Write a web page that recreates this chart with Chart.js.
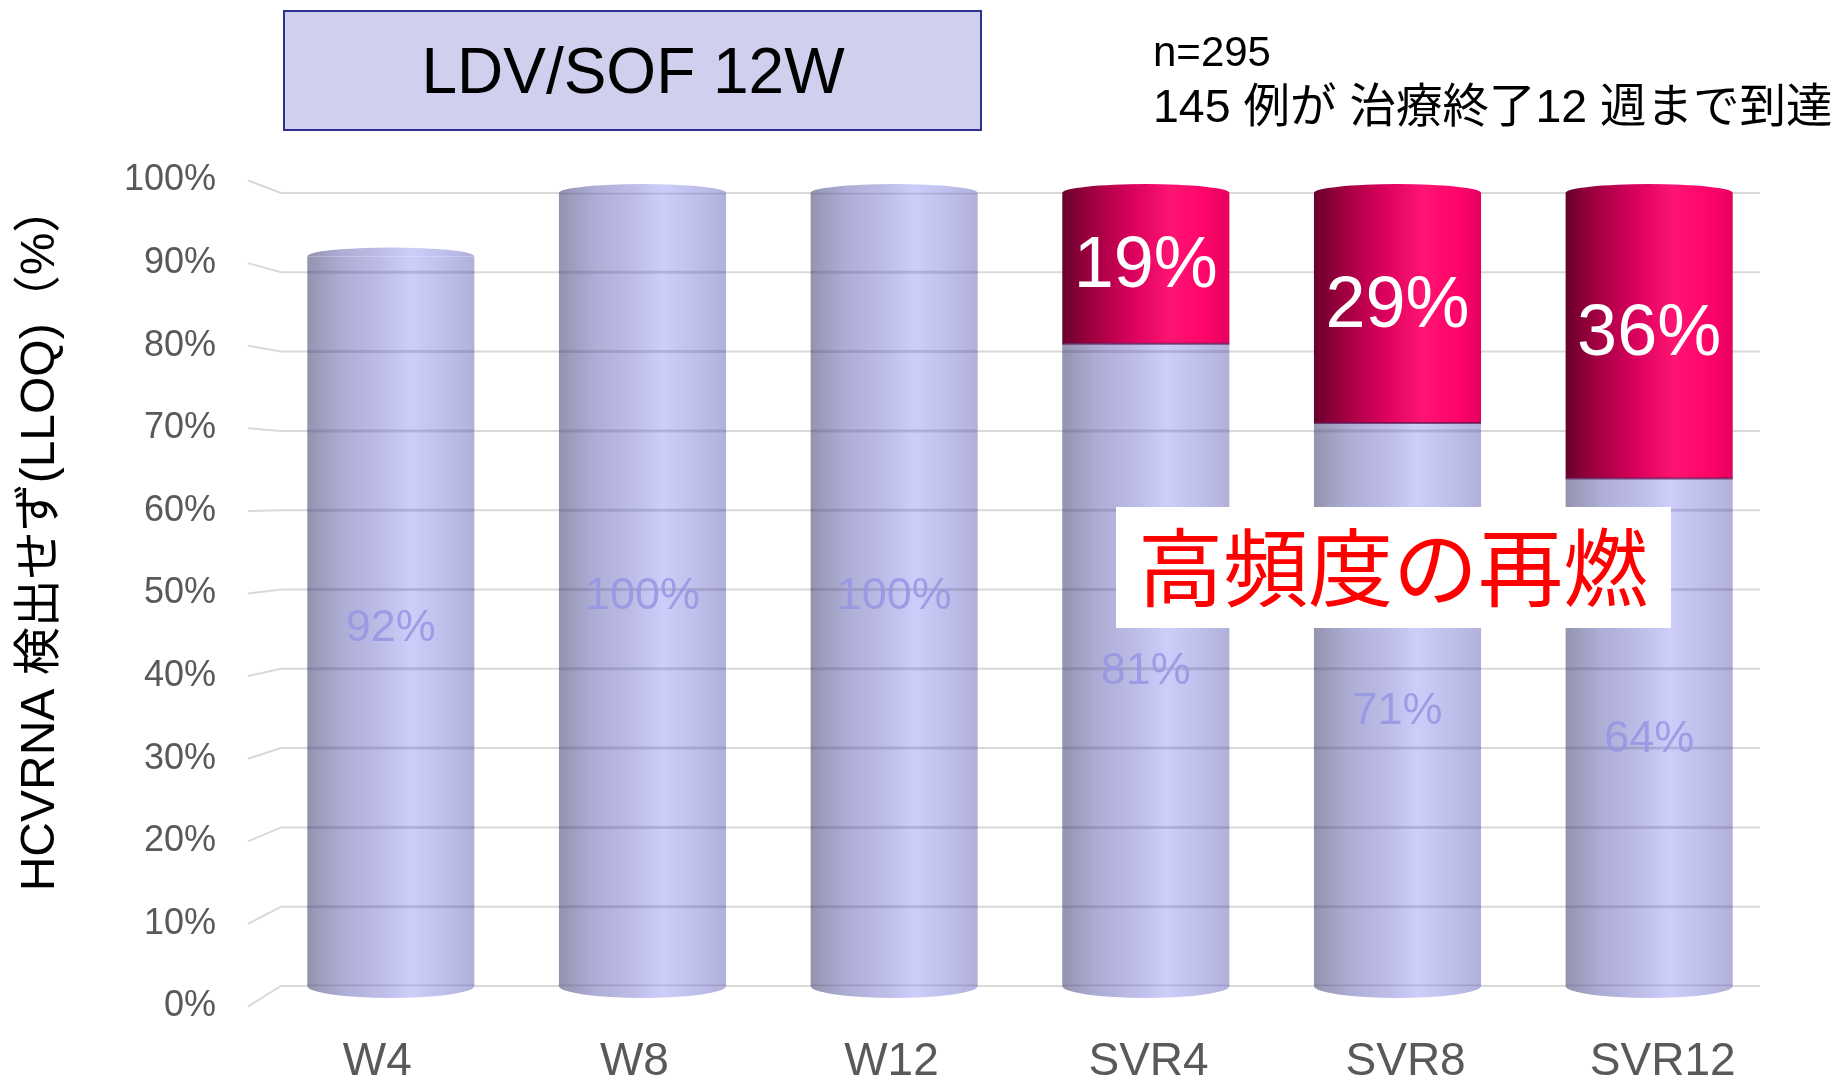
<!DOCTYPE html>
<html>
<head>
<meta charset="utf-8">
<script src="https://cdn.jsdelivr.net/npm/chart.js@4"></script>
<style>
  html, body { margin: 0; padding: 0; background: #fff; }
  #wrap { width: 1848px; height: 1078px; position: relative; }
</style>
</head>
<body>
<div id="wrap"><canvas id="chart"></canvas></div>
<script>
const labels = ['W4', 'W8', 'W12', 'SVR4', 'SVR8', 'SVR12'];
const undetected = [92, 100, 100, 81, 71, 64];   // HCV RNA < LLOQ (%)
const relapse = [0, 0, 0, 19, 29, 36];            // relapse (%)
const yTicks = [0, 10, 20, 30, 40, 50, 60, 70, 80, 90, 100];
const yTickLabels = yTicks.map(v => v + '%');

const LATIN = "'Liberation Sans', Arial, 'Noto Sans CJK JP', sans-serif";
const JP = "'Noto Sans CJK JP', 'Liberation Sans', sans-serif";
const BAR_PCT = 0.664;

const blueStops = [
  [0, 'rgba(136,136,166,0.9)'], [0.2, 'rgba(163,163,208,0.9)'], [0.45, 'rgba(182,182,230,0.9)'],
  [0.62, 'rgba(200,200,250,0.9)'], [0.82, 'rgba(184,184,234,0.9)'], [1, 'rgba(168,168,214,0.9)']
];
const redStops = [
  [0, '#69002d'], [0.15, '#98003d'], [0.4, '#d6005a'],
  [0.65, '#ff1473'], [0.85, '#ff0569'], [1, '#e6005f']
];

function barGradient(context, stops) {
  const chart = context.chart;
  const xs = chart.scales.x;
  if (context.type !== 'data' || !chart.chartArea || !xs) return stops[2][1];
  const cx = xs.getPixelForValue(context.dataIndex);
  const w = xs.width / labels.length * BAR_PCT;
  const g = chart.ctx.createLinearGradient(cx - w / 2, 0, cx + w / 2, 0);
  stops.forEach(s => g.addColorStop(s[0], s[1]));
  return g;
}

// axes, perspective tick labels, cylinder caps, data labels and annotations
const deco = {
  id: 'deco',
  beforeDatasetsDraw(chart) {
    const {ctx, chartArea: a, scales: {x, y}} = chart;
    const midY = (a.top + a.bottom) / 2;
    const midX = (a.left + a.right) / 2;
    ctx.save();
    ctx.strokeStyle = '#d9d9d9';
    ctx.lineWidth = 2;
    ctx.font = '36px ' + LATIN;
    ctx.fillStyle = '#595959';
    ctx.textAlign = 'right';
    ctx.textBaseline = 'middle';
    yTicks.forEach((v, i) => {
      const gy = y.getPixelForValue(v);
      const ly = midY + (gy - midY) * 1.0416 + 4;
      ctx.beginPath();
      ctx.moveTo(a.left - 17, ly);
      ctx.lineTo(a.left + 16, gy);
      ctx.lineTo(a.right - 15, gy);
      ctx.stroke();
      ctx.fillText(yTickLabels[i], a.left - 49, ly);
    });
    ctx.font = '46px ' + LATIN;
    ctx.textAlign = 'center';
    labels.forEach((lab, i) => {
      const bx = x.getPixelForValue(i);
      ctx.fillText(lab, midX + (bx - midX) * 1.0215, 1062);
    });
    ctx.restore();
  },
  afterDatasetsDraw(chart) {
    const {ctx, scales: {y}} = chart;
    const m0 = chart.getDatasetMeta(0);
    const m1 = chart.getDatasetMeta(1);
    ctx.save();
    m0.data.forEach((bar, i) => {
      const p = bar.getProps(['x', 'y', 'base', 'width'], true);
      const left = p.x - p.width / 2;
      // grid lines seen through the translucent cylinder
      ctx.save();
      ctx.beginPath();
      ctx.rect(left, p.y, p.width, p.base - p.y);
      ctx.clip();
      ctx.strokeStyle = 'rgba(70,70,110,0.18)';
      ctx.lineWidth = 3;
      yTicks.forEach(v => {
        const gy = y.getPixelForValue(v);
        ctx.beginPath();
        ctx.moveTo(left, gy);
        ctx.lineTo(left + p.width, gy);
        ctx.stroke();
      });
      ctx.restore();
      // bottom cap
      ctx.fillStyle = bar.options.backgroundColor;
      ctx.beginPath();
      ctx.ellipse(p.x, p.base, p.width / 2, 12, 0, 0, Math.PI);
      ctx.fill();
      // top cap
      const topBar = relapse[i] > 0 ? m1.data[i] : bar;
      const tp = topBar.getProps(['x', 'y', 'width'], true);
      ctx.fillStyle = topBar.options.backgroundColor;
      ctx.beginPath();
      ctx.ellipse(tp.x, tp.y, tp.width / 2, 9, 0, Math.PI, 2 * Math.PI);
      ctx.fill();
      // boundary between segments
      if (relapse[i] > 0) {
        const rp = m1.data[i].getProps(['base'], true);
        ctx.strokeStyle = 'rgba(90,20,80,0.7)';
        ctx.lineWidth = 2;
        ctx.beginPath();
        ctx.moveTo(left, rp.base);
        ctx.lineTo(left + p.width, rp.base);
        ctx.stroke();
      }
      // labels
      ctx.textAlign = 'center';
      ctx.textBaseline = 'middle';
      ctx.font = '45px ' + LATIN;
      ctx.fillStyle = 'rgba(150,150,228,0.85)';
      ctx.fillText(undetected[i] + '%', p.x, (p.y + p.base) / 2 + 7);
      if (relapse[i] > 0) {
        const rp = m1.data[i].getProps(['x', 'y', 'base'], true);
        ctx.font = '72px ' + LATIN;
        ctx.fillStyle = '#ffffff';
        ctx.fillText(relapse[i] + '%', rp.x, (rp.y + rp.base) / 2 - 1);
      }
    });
    ctx.restore();
  },
  afterDraw(chart) {
    const ctx = chart.ctx;
    ctx.save();
    // title box
    ctx.fillStyle = '#d0d0ee';
    ctx.fillRect(284, 11, 697, 119);
    ctx.strokeStyle = '#2e3192';
    ctx.lineWidth = 2;
    ctx.strokeRect(284, 11, 697, 119);
    ctx.fillStyle = '#000';
    ctx.font = '64px ' + LATIN;
    ctx.textAlign = 'center';
    ctx.textBaseline = 'middle';
    ctx.fillText('LDV/SOF 12W', 633, 75);
    // notes
    ctx.textAlign = 'left';
    ctx.font = '42px ' + LATIN;
    ctx.fillText('n=295', 1153, 54);
    ctx.font = '46.5px ' + LATIN;
    ctx.fillText('145 例が 治療終了12 週まで到達', 1153, 109);
    // relapse callout
    ctx.fillStyle = '#ffffff';
    ctx.fillRect(1116, 507, 555, 121);
    ctx.fillStyle = '#ff0000';
    ctx.font = '85px ' + JP;
    ctx.textAlign = 'center';
    ctx.fillText('高頻度の再燃', 1393, 568);
    // y axis title
    ctx.translate(41, 538);
    ctx.rotate(-Math.PI / 2);
    ctx.fillStyle = '#000';
    ctx.font = '48px ' + LATIN;
    ctx.fillText('HCVRNA 検出せず(LLOQ)（%）', 0, 0);
    ctx.restore();
  }
};

new Chart(document.getElementById('chart'), {
  type: 'bar',
  data: {
    labels: labels,
    datasets: [
      {
        label: 'HCVRNA 検出せず',
        data: undetected,
        backgroundColor: c => barGradient(c, blueStops),
        borderWidth: 0,
        barPercentage: BAR_PCT,
        categoryPercentage: 1
      },
      {
        label: '再燃',
        data: relapse,
        backgroundColor: c => barGradient(c, redStops),
        borderWidth: 0,
        barPercentage: BAR_PCT,
        categoryPercentage: 1
      }
    ]
  },
  options: {
    responsive: true,
    maintainAspectRatio: false,
    animation: false,
    layout: { padding: { top: 193, bottom: 92, left: 265, right: 73 } },
    plugins: { legend: { display: false }, tooltip: { enabled: false } },
    scales: {
      x: { stacked: true, display: false },
      y: { stacked: true, display: false, min: 0, max: 100 }
    }
  },
  plugins: [deco]
});
</script>
</body>
</html>
